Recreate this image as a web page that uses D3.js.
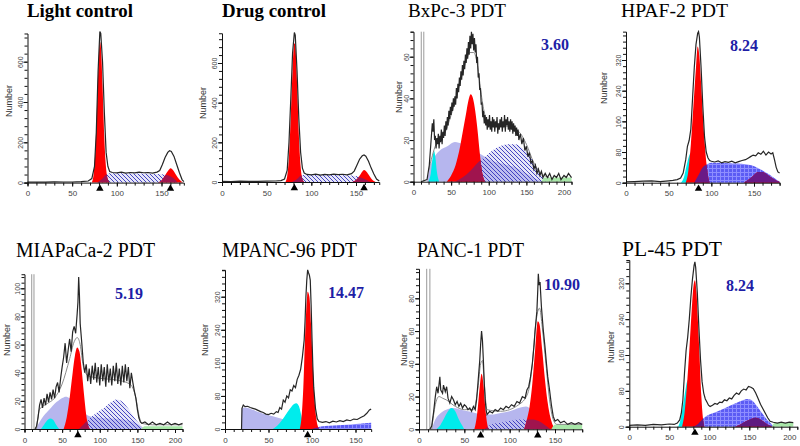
<!DOCTYPE html>
<html>
<head>
<meta charset="utf-8">
<script src="https://cdn.jsdelivr.net/npm/d3@7"></script>
<style>
  body { margin: 0; background: #fff; }
  svg { display: block; }
</style>
</head>
<body>
<script>
// ---- data: [channel, count] ----

// Light control
const lcOutline = [[0,2],[10,3],[20,2],[30,4],[40,3],[50,3],[60,5],[68,8],[72,20],[75,80],[77,250],[79,550],[81,750],[82,740],[84,600],[86,350],[88,150],[90,80],[92,55],[95,50],[100,48],[105,52],[110,47],[115,50],[120,48],[125,52],[130,49],[135,50],[140,47],[145,52],[148,60],[151,90],[154,125],[157,150],[159,158],[161,155],[164,130],[167,90],[170,50],[173,15],[175,5]];
const lcG1 = [[72,0],[74,40],[76,160],[78,400],[80,640],[81,700],[82,680],[84,480],[86,220],[88,70],[90,15],[92,0]];
const lcG2 = [[146,0],[150,10],[154,35],[158,62],[160,71],[162,66],[166,40],[170,15],[174,0]];
const lcS = [[78,0],[84,20],[88,40],[92,46],[100,46],[120,45],[140,44],[150,42],[158,35],[164,20],[168,0]];
const lcMarks = [81, 160];

// Drug control
const dcOutline = [[0,3],[10,2],[20,4],[30,3],[40,3],[50,4],[60,5],[66,7],[70,15],[73,60],[75,200],[77,420],[79,650],[81,754],[82,740],[84,560],[86,320],[88,150],[90,70],[92,45],[95,38],[100,36],[105,40],[110,35],[115,38],[120,36],[125,40],[130,37],[135,39],[140,36],[145,42],[148,55],[151,85],[154,115],[157,132],[159,136],[161,130],[164,105],[167,70],[170,40],[173,15],[176,5]];
const dcG1 = [[71,0],[73,30],[75,130],[77,330],[79,560],[81,700],[82,690],[84,500],[86,240],[88,80],[90,15],[92,0]];
const dcG2 = [[146,0],[150,10],[154,32],[157,52],[159,60],[161,56],[164,38],[167,18],[170,5],[172,0]];
const dcS = [[78,0],[84,15],[88,32],[92,36],[100,36],[120,35],[140,34],[150,30],[156,22],[162,10],[166,0]];
const dcMarks = [81, 159];

// BxPc-3 PDT
const bxOutline = [[10,0],[18,1],[21,8],[23,18],[25,28],[26,24],[27,30],[28,20],[29,22],[30,16],[31,21],[32,18],[33,23],[34,16],[35,22],[36,19],[37,25],[38,18],[39,24],[40,21],[41,27],[42,22],[43,29],[44,25],[45,31],[46,27],[47,34],[48,30],[49,36],[50,32],[51,38],[52,34],[53,40],[54,36],[55,41],[56,37],[57,45],[58,40],[59,47],[60,43],[61,50],[62,46],[63,53],[64,49],[65,56],[66,51],[67,58],[68,54],[69,61],[70,57],[71,64],[72,59],[73,67],[74,61],[75,70],[76,64],[77,72],[78,66],[79,71],[80,63],[81,69],[82,62],[83,66],[84,57],[85,60],[86,50],[87,52],[88,44],[89,45],[90,37],[91,38],[92,31],[93,34],[94,28],[95,32],[96,27],[97,31],[98,25],[99,30],[100,26],[101,32],[102,25],[103,29],[104,24],[105,31],[106,26],[107,30],[108,24],[109,29],[110,26],[111,31],[112,23],[113,28],[114,25],[115,30],[116,26],[117,31],[118,24],[119,29],[120,26],[121,32],[122,24],[123,30],[124,27],[125,31],[126,25],[127,29],[128,24],[129,30],[130,25],[131,29],[132,23],[133,28],[134,24],[135,27],[136,22],[137,26],[138,22],[139,25],[140,20],[142,23],[144,18],[146,21],[148,15],[150,17],[152,12],[154,14],[156,9],[158,10],[160,6],[162,8],[164,4],[166,6],[168,3],[170,5],[172,2],[175,4],[178,2],[181,4],[184,1],[187,3],[190,2],[193,4],[196,1],[200,3],[203,2],[206,4],[210,2]];
const bxFit = [[20,5],[30,18],[40,22],[50,32],[60,45],[70,58],[75,62],[80,62],[85,56],[90,42],[95,32],[100,29],[120,27],[140,24],[150,18],[160,9],[170,4],[180,2]];
const bxDebris = [[18,0],[22,7],[28,12],[35,15],[45,17],[55,19],[65,18],[75,16],[85,14],[95,12],[105,10],[115,9],[125,8],[135,7],[145,5],[155,3],[165,1],[172,0]];
const bxApo = [[20,0],[23,4],[26,13],[27,15],[29,12],[31,5],[34,0]];
const bxG1 = [[44,0],[50,3],[56,8],[62,17],[66,25],[70,33],[73,39],[76,42],[79,40],[82,34],[85,25],[88,14],[91,5],[95,0]];
const bxS = [[55,0],[65,2],[75,5],[85,9],[95,12],[105,15],[115,17],[125,18],[135,18],[145,16],[155,12],[162,8],[168,4],[175,1],[180,0]];
const bxTail = [[170,0],[174,2],[190,2],[210,2],[210,0]];
const bxGates = [10.3, 13.7];

// HPAF-2 PDT
const hpOutline = [[0,2],[10,3],[20,4],[30,5],[40,3],[50,5],[55,6],[60,8],[64,12],[67,25],[70,60],[72,95],[74,110],[76,140],[78,220],[80,300],[82,360],[84,390],[85,394],[86,380],[88,300],[90,200],[92,120],[94,80],[96,65],[98,58],[100,56],[104,54],[108,57],[112,52],[116,55],[120,53],[124,56],[128,52],[132,55],[136,58],[140,60],[143,64],[146,68],[149,72],[152,70],[155,78],[158,74],[161,82],[164,72],[167,80],[170,75],[172,78],[174,60],[176,40],[178,28],[180,25]];
const hpApo = [[64,0],[68,15],[71,45],[74,70],[77,80],[80,60],[83,20],[85,0]];
const hpG1 = [[70,0],[73,30],[76,100],[79,200],[82,300],[84,355],[86,330],[88,260],[90,180],[92,110],[94,55],[96,20],[98,0]];
const hpG2 = [[138,0],[145,10],[150,20],[155,28],[160,28],[165,22],[170,14],[175,7],[180,2]];
const hpS = [[80,0],[85,20],[90,40],[95,48],[100,52],[110,52],[120,51],[130,50],[140,48],[148,45],[155,38],[160,32],[165,25],[170,18],[175,10],[180,3]];
const hpMarks = [85];

// MIAPaCa-2 PDT
const miOutline = [[14,0],[16,2],[18,8],[20,17],[22,21],[24,15],[26,22],[28,17],[30,25],[32,19],[34,26],[36,21],[38,28],[40,22],[42,30],[44,33],[46,26],[48,36],[50,44],[52,51],[54,61],[56,47],[58,56],[60,64],[62,55],[64,69],[66,73],[68,68],[70,82],[71,90],[72,108],[73,95],[74,75],[76,62],[78,48],[80,40],[82,46],[84,34],[86,43],[88,32],[90,45],[92,35],[94,47],[96,33],[98,44],[100,31],[102,46],[104,34],[106,44],[108,30],[110,46],[112,33],[114,43],[116,31],[118,45],[120,34],[122,47],[124,32],[126,43],[128,31],[130,45],[132,33],[134,46],[136,34],[138,44],[140,29],[142,40],[144,33],[146,27],[148,22],[150,14],[152,8],[154,5],[156,4],[160,5],[165,3],[170,5],[175,3],[180,4],[185,3],[190,5],[195,3],[200,4],[205,3],[210,4]];
const miFit = [[16,0],[20,14],[30,18],[40,22],[50,32],[60,50],[66,62],[70,65],[74,60],[78,45],[84,38],[100,36],[120,35],[140,32],[148,22],[152,10],[156,4],[170,3],[210,3]];
const miDebris = [[15,0],[20,5],[25,9],[30,12],[35,15],[40,18],[45,20],[50,22],[55,23],[60,22],[70,17],[80,11],[90,8.5],[100,8],[115,7.5],[130,7],[145,5],[155,2],[160,0]];
const miApo = [[22,0],[26,3],[30,6],[34,7.5],[38,6.5],[42,3],[46,0]];
const miG1 = [[52,0],[56,8],[60,22],[64,40],[67,52],[70,58],[73,55],[76,42],[79,25],[82,10],[85,2],[87,0]];
const miS = [[72,0],[78,3],[85,7],[92,10],[100,13],[108,16],[115,19],[122,21],[128,20],[134,17],[140,13],[146,8],[152,4],[158,0]];
const miTail = [[155,0],[160,2],[210,2],[210,0]];
const miGates = [9.6, 12.6];
const miMarks = [71];

// MPANC-96 PDT
const mpOutline = [[19,0],[19.5,50],[21,58],[23,54],[26,55],[29,52],[32,50],[35,48],[38,45],[41,42],[44,40],[47,36],[50,35],[53,38],[56,36],[59,42],[61,40],[63,52],[65,48],[67,70],[69,65],[71,80],[73,75],[75,95],[77,92],[79,105],[81,100],[83,120],[85,130],[87,145],[89,175],[91,215],[92,260],[93,320],[94,360],[95,385],[96,378],[97,372],[98,360],[99,300],[100,220],[101,150],[102,100],[104,50],[106,25],[108,18],[112,16],[116,18],[120,15],[124,19],[128,17],[132,20],[136,18],[140,22],[144,20],[148,24],[152,23],[156,28],[160,32],[163,38],[166,46],[168,48]];
const mpDebris = [[19,0],[19.5,50],[23,52],[30,48],[40,40],[50,33],[60,28],[70,22],[80,14],[90,6],[95,0]];
const mpApo = [[55,0],[60,8],[65,20],[70,35],[75,50],[79,60],[82,62],[85,55],[88,30],[90,10],[92,0]];
const mpG1 = [[86,0],[88,30],[90,100],[92,220],[94,310],[95,332],[97,320],[99,250],[101,150],[103,70],[105,25],[107,5],[108,0]];
const mpS = [[100,0],[105,3],[110,6],[120,8],[130,9],[140,10],[150,12],[160,14],[168,15],[168,0]];
const mpMarks = [95];

// PANC-1 PDT
const paOutline = [[12,0],[14,2],[16,10],[18,20],[19.5,26],[21,22],[23,32],[24,24],[26,22],[27,27],[29,23],[30.5,26],[32,19],[34,16],[36,20],[38,18],[40,15],[42,17],[44,14],[46,16],[48,13],[50,15],[52,14],[54,12],[56,13],[58,11],[60,14],[62,12],[63.5,18],[65,28],[67,42],[68,52],[69,60],[70,54],[71,42],[72,28],[73,18],[74,12],[75,9],[78,11],[81,10],[84,12],[87,11],[90,13],[93,12],[96,14],[99,13],[102,15],[105,14],[108,17],[111,16],[114,20],[117,19],[119,24],[121,26],[123,32],[125,40],[127,52],[128,60],[129,66],[130,72],[131,85],[131.6,95],[132.5,88],[133.5,90],[135,75],[136,68],[137,61],[139,50],[140.6,40],[142,32],[144,24],[146,15],[148,8],[150,5],[153,6],[156,4],[160,5],[164,3],[168,4],[172,3],[176,4],[180,3]];
const paFit = [[14,0],[18,15],[22,20],[26,19],[30,18],[40,14],[50,12],[60,12],[65,25],[68,40],[70,42],[72,28],[75,12],[90,11],[110,15],[120,22],[125,40],[128,60],[131,72],[133,74],[136,62],[140,40],[144,18],[148,6],[152,3],[180,3]];
const paDebris = [[14,0],[18,6],[24,10],[30,12],[38,13],[46,12],[54,11],[62,10],[70,9],[80,9],[90,10],[100,11],[110,13],[118,14],[124,12],[130,8],[136,4],[142,0]];
const paApo = [[19,0],[24,3],[28,7],[32,11],[36,13],[40,11],[44,6],[48,2],[50,0]];
const paG1 = [[61,0],[63,5],[65,14],[67,26],[69,34],[71,28],[73,14],[75,4],[77,0]];
const paG2 = [[116,0],[119,6],[122,14],[125,28],[128,48],[131,66],[133,64],[136,48],[139,30],[142,16],[145,7],[148,2],[151,0]];
const paS = [[72,0],[80,3],[90,4],[100,5],[110,6],[118,6],[125,6],[132,5],[138,3],[145,0]];
const paTail = [[146,0],[150,3],[180,3],[180,0]];
const paGates = [8.5, 12];
const paMarks = [68, 131];

// PL-45 PDT
const plOutline = [[0,3],[10,4],[20,3],[30,5],[40,4],[50,6],[56,5],[60,8],[63,15],[65,30],[67,60],[69,120],[71,170],[73,200],[75,240],[77,290],[79,330],[81,360],[82,368],[83,355],[85,300],[87,220],[89,150],[91,100],[93,75],[95,62],[97,55],[99,48],[101,45],[104,48],[107,52],[110,50],[113,55],[116,54],[119,60],[122,58],[125,64],[128,62],[131,70],[134,75],[137,72],[140,80],[143,84],[146,82],[149,90],[152,88],[155,85],[158,75],[161,63],[164,50],[167,40],[170,30],[173,20],[176,12],[180,10],[185,8],[190,10],[195,8],[200,10],[205,9]];
const plApo = [[61,0],[64,15],[67,45],[70,80],[72,100],[74,105],[77,80],[80,40],[83,10],[85,0]];
const plG1 = [[66,0],[69,30],[72,90],[75,170],[78,260],[80,310],[82,327],[84,300],[86,230],[88,150],[90,70],[92,20],[94,0]];
const plG2 = [[132,0],[140,6],[147,13],[153,18],[158,20],[163,17],[168,11],[173,5],[178,1],[181,0]];
const plS = [[78,0],[85,5],[90,14],[95,22],[100,27],[110,34],[120,42],[130,50],[140,58],[147,62],[152,60],[157,52],[162,40],[167,28],[172,16],[177,7],[181,0]];
const plTail = [[178,0],[182,8],[205,8],[205,0]];
const plMarks = [82];

// titles, apoptosis values, tick labels
const titles = ["Light control", "Drug control", "BxPc-3 PDT", "HPAF-2 PDT", "MIAPaCa-2 PDT", "MPANC-96 PDT", "PANC-1 PDT", "PL-45 PDT"];
const apoValues = [null, null, "3.60", "8.24", "5.19", "14.47", "10.90", "8.24"];
const xTickLabels = [0, 50, 100, 150, 200];
const yTicksControl = [0, 200, 400, 600];
const yTicks60 = [0, 20, 40, 60];
const yTicks100 = [0, 20, 40, 60, 80, 100];
const yTicks80 = [0, 20, 40, 60, 80];
const yTicks320 = [0, 80, 160, 240, 320];

// ---- layout ----
const width = 800, height = 446;
const svg = d3.select("body").append("svg")
  .attr("width", width)
  .attr("height", height);

const defs = svg.append("defs");

// diagonal hatch for S phase
const hatch = defs.append("pattern").attr("id", "hatch")
  .attr("patternUnits", "userSpaceOnUse").attr("width", 4).attr("height", 4);
hatch.append("rect").attr("width", 4).attr("height", 4).attr("fill", "#c8c8f0").attr("fill-opacity", 0.45);
hatch.append("path").attr("d", "M0,0L4,4M-1,3L1,5M3,-1L5,1")
  .attr("stroke", "#3434bc").attr("stroke-width", 0.9);

// blue grid fill
const grid = defs.append("pattern").attr("id", "grid")
  .attr("patternUnits", "userSpaceOnUse").attr("width", 4).attr("height", 4);
grid.append("rect").attr("width", 4).attr("height", 4).attr("fill", "#5c5cf4");
grid.append("path").attr("d", "M0,0.5H4M0.5,0V4").attr("stroke", "#8e8eff").attr("stroke-width", 1);

const panels = [
  { title: 0, bold: true, tx: 27, ty: 17, tw: 106, ts: 19,
    xCal: [[0, 27.5], [150, 161.5]], yCal: [[0, 182.6], [600, 61.7]], xMax: 175, yMax: 740, yMinor: 40, yTicks: yTicksControl,
    nx: 12, ny: 101, outline: lcOutline, g1: lcG1, g2: lcG2, s: lcS, sFill: "url(#hatch)", over: "#a0144e", marks: lcMarks },
  { title: 1, bold: true, tx: 222, ty: 17, tw: 104, ts: 19,
    xCal: [[0, 222], [150, 356]], yCal: [[0, 182], [600, 63]], xMax: 176, yMax: 750, yMinor: 40, yTicks: yTicksControl,
    nx: 206, ny: 103, outline: dcOutline, g1: dcG1, g2: dcG2, s: dcS, sFill: "url(#hatch)", over: "#a0144e", marks: dcMarks },
  { title: 2, bold: false, tx: 408, ty: 17, tw: 98, ts: 19,
    xCal: [[0, 413.5], [200, 564]], yCal: [[0, 181.7], [60, 56.7]], xMax: 210, yMax: 72, yMinor: 4, yTicks: yTicks60,
    nx: 402, ny: 97, outline: bxOutline, fit: bxFit, debris: bxDebris, apo: bxApo, g1: bxG1, s: bxS, sFill: "url(#hatch)",
    over: "#a0144e", tail: bxTail, gates: bxGates, vx: 555, vy: 44 },
  { title: 3, bold: false, tx: 621, ty: 17, tw: 107, ts: 19,
    xCal: [[0, 626], [150, 754]], yCal: [[0, 182.7], [320, 60]], xMax: 180, yMax: 394, yMinor: 16, yTicks: yTicks320,
    nx: 607, ny: 88, outline: hpOutline, apo: hpApo, g1: hpG1, g2: hpG2, s: hpS, sFill: "url(#grid)", over: "#6a1a86",
    marks: hpMarks, vx: 744, vy: 45 },
  { title: 4, bold: false, tx: 16, ty: 256.5, tw: 139, ts: 20,
    xCal: [[0, 24.5], [200, 175]], yCal: [[0, 429], [100, 288.3]], xMax: 210, yMax: 110, yMinor: 4, yTicks: yTicks100,
    nx: 10, ny: 340, outline: miOutline, fit: miFit, debris: miDebris, apo: miApo, g1: miG1, s: miS, sFill: "url(#hatch)",
    over: "#a0144e", tail: miTail, gates: miGates, marks: miMarks, vx: 129, vy: 293 },
  { title: 5, bold: false, tx: 222, ty: 257, tw: 135, ts: 20,
    xCal: [[0, 225], [150, 355.5]], yCal: [[0, 429], [320, 296.7]], xMax: 168, yMax: 385, yMinor: 16, yTicks: yTicks320,
    nx: 208, ny: 340, outline: mpOutline, debris: mpDebris, apo: mpApo, g1: mpG1, s: mpS, sFill: "url(#grid)", over: "#6a1a86",
    marks: mpMarks, vx: 346, vy: 292 },
  { title: 6, bold: false, tx: 417, ty: 257, tw: 107, ts: 20,
    xCal: [[0, 419], [150, 555]], yCal: [[0, 429.3], [80, 298.3]], xMax: 180, yMax: 98, yMinor: 4, yTicks: yTicks80,
    nx: 407, ny: 350, outline: paOutline, fit: paFit, debris: paDebris, apo: paApo, g1: paG1, g2: paG2, s: paS,
    sFill: "url(#hatch)", over: "#a0144e", tail: paTail, gates: paGates, marks: paMarks, vx: 562, vy: 284 },
  { title: 7, bold: false, tx: 622, ty: 256, tw: 100, ts: 21,
    xCal: [[0, 629.3], [200, 789.3]], yCal: [[0, 426.7], [320, 283.3]], xMax: 210, yMax: 372, yMinor: 16, yTicks: yTicks320,
    nx: 614, ny: 347, outline: plOutline, apo: plApo, g1: plG1, g2: plG2, s: plS, sFill: "url(#grid)", over: "#5e1a80",
    tail: plTail, marks: plMarks, vx: 740, vy: 285 }
];

panels.forEach(drawPanel);

function drawPanel(p, pi) {
  const xc = d3.scaleLinear().domain([p.xCal[0][0], p.xCal[1][0]]).range([p.xCal[0][1], p.xCal[1][1]]);
  const yc = d3.scaleLinear().domain([p.yCal[0][0], p.yCal[1][0]]).range([p.yCal[0][1], p.yCal[1][1]]);
  const x = d3.scaleLinear().domain([0, p.xMax]).range([xc(0), xc(p.xMax)]);
  const y = d3.scaleLinear().domain([0, p.yMax]).range([yc(0), yc(p.yMax)]);

  const g = svg.append("g");
  const area = d3.area().x(d => x(d[0])).y0(y(0)).y1(d => y(d[1])).curve(d3.curveMonotoneX);
  const line = d3.line().x(d => x(d[0])).y(d => y(d[1]));
  const smooth = d3.line().x(d => x(d[0])).y(d => y(d[1])).curve(d3.curveMonotoneX);

  if (p.debris) g.append("path").attr("d", area(p.debris)).attr("fill", "#b6b6ee");
  if (p.apo) g.append("path").attr("d", area(p.apo)).attr("fill", "#00ecec");
  if (p.s) g.append("path").attr("d", area(p.s)).attr("fill", p.sFill);

  [p.g1, p.g2].forEach((pk, i) => {
    if (!pk) return;
    g.append("path").attr("d", area(pk)).attr("fill", "#ff0000");
    if (p.s) {
      const id = `clip${pi}_${i}`;
      defs.append("clipPath").attr("id", id).append("path").attr("d", area(pk));
      g.append("path").attr("d", area(p.s)).attr("clip-path", `url(#${id})`).attr("fill", p.over);
    }
  });

  if (p.tail) g.append("path").attr("d", area(p.tail)).attr("fill", "#a8e6a8");

  // gate lines
  (p.gates || []).forEach(v => {
    g.append("line")
      .attr("x1", x(v)).attr("x2", x(v))
      .attr("y1", y(0)).attr("y2", y(p.yMax))
      .attr("stroke", "#999").attr("stroke-width", 1);
  });

  if (p.fit) g.append("path").attr("d", smooth(p.fit)).attr("fill", "none").attr("stroke", "#8a8a8a").attr("stroke-width", 1);
  g.append("path").attr("d", line(p.outline)).attr("fill", "none").attr("stroke", "#262626").attr("stroke-width", 1.2);

  // axes
  const xMinor = d3.axisBottom(x).tickValues(d3.range(0, p.xMax + 0.01, 10)).tickSize(3).tickFormat("");
  g.append("g").attr("transform", `translate(0,${y(0)})`).call(xMinor);
  const xMajor = d3.axisBottom(x).tickValues(xTickLabels.filter(v => v <= p.xMax)).tickSize(4).tickPadding(4);
  g.append("g").attr("transform", `translate(0,${y(0)})`).call(xMajor)
    .call(a => a.select(".domain").remove())
    .call(a => a.selectAll("text").attr("font-family", "Liberation Sans, Arial").attr("font-size", 8).attr("fill", "#444"));

  const yMinor = d3.axisLeft(y).tickValues(d3.range(0, p.yMax + 0.01, p.yMinor)).tickSize(3).tickFormat("");
  g.append("g").attr("transform", `translate(${x(0)},0)`).call(yMinor);
  const yMajor = d3.axisLeft(y).tickValues(p.yTicks).tickSize(4);
  g.append("g").attr("transform", `translate(${x(0)},0)`).call(yMajor)
    .call(a => a.select(".domain").remove())
    .call(a => a.selectAll("text")
      .attr("transform", "rotate(-90)")
      .attr("x", 0).attr("y", -5).attr("dy", 0)
      .attr("text-anchor", "middle")
      .attr("font-family", "Liberation Sans, Arial").attr("font-size", 7).attr("fill", "#444"));

  g.selectAll(".domain, .tick line").attr("stroke", "#111");

  // peak markers
  (p.marks || []).forEach(v => {
    g.append("path")
      .attr("d", d3.symbol(d3.symbolTriangle).size(24)())
      .attr("transform", `translate(${x(v)},${y(0) + 6})`)
      .attr("fill", "#000");
  });

  // y label
  g.append("text")
    .attr("transform", `translate(${p.nx},${p.ny}) rotate(-90)`)
    .attr("text-anchor", "middle")
    .attr("font-family", "Liberation Sans, Arial").attr("font-size", 9).attr("fill", "#333")
    .text("Number");

  // title
  svg.append("text")
    .attr("x", p.tx).attr("y", p.ty)
    .attr("textLength", p.tw).attr("lengthAdjust", "spacingAndGlyphs")
    .attr("font-family", "Liberation Serif, Times New Roman, serif")
    .attr("font-weight", p.bold ? "bold" : "normal")
    .attr("font-size", p.ts).attr("fill", "#000")
    .text(titles[p.title]);

  // apoptosis value
  if (apoValues[p.title]) {
    svg.append("text")
      .attr("x", p.vx).attr("y", p.vy + 5.5)
      .attr("text-anchor", "middle")
      .attr("font-family", "Liberation Serif, Times New Roman, serif")
      .attr("font-weight", "bold").attr("font-size", 16).attr("fill", "#1e1ea6")
      .text(apoValues[p.title]);
  }
}
</script>
</body>
</html>
